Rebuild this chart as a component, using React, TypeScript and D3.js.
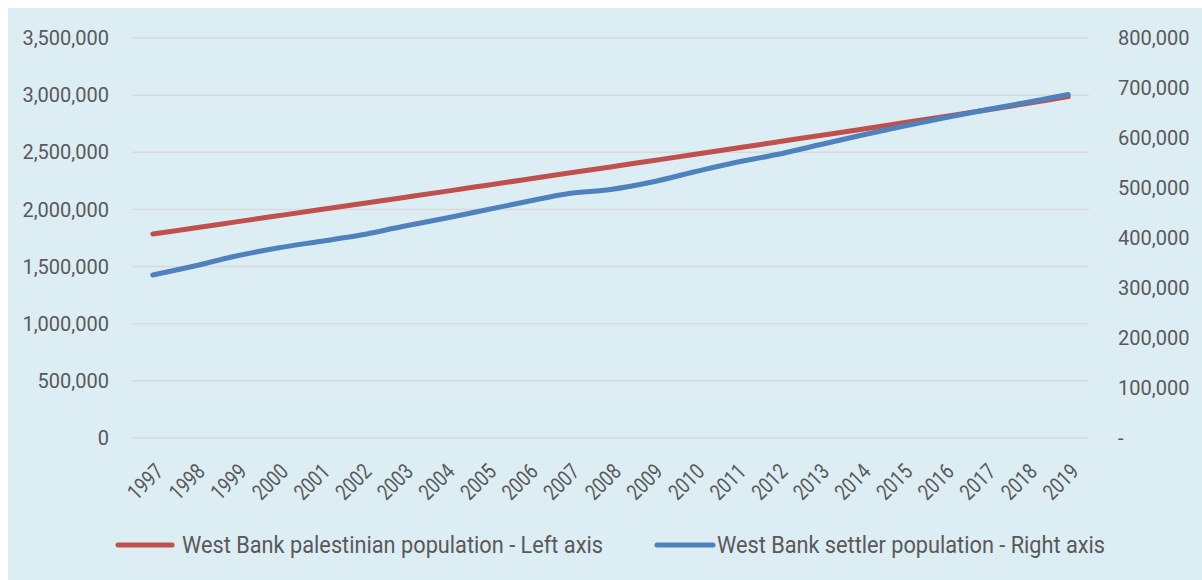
import React from "react";
import * as d3 from "d3";

// Years on the category axis
const years: string[] = [
  "1997", "1998", "1999", "2000", "2001", "2002", "2003", "2004", "2005", "2006", "2007", "2008",
  "2009", "2010", "2011", "2012", "2013", "2014", "2015", "2016", "2017", "2018", "2019",
];

// West Bank palestinian population (left axis)
const palestinian: number[] = [
  1785000, 1838000, 1891000, 1944000, 1997000, 2050000, 2103000, 2156000, 2210000, 2264000, 2318000,
  2372000, 2426000, 2480000, 2535000, 2590000, 2645000, 2700000, 2756000, 2812000, 2868000, 2927000,
  2987000,
];

// West Bank settler population (right axis)
const settlers: number[] = [
  326000, 344000, 364000, 380000, 393000, 406000, 423000, 439000, 456000, 473000, 489000, 497000,
  512000, 532000, 551000, 567000, 586000, 605000, 623000, 640000, 656000, 671000, 687000,
];

const leftTicks: number[] = [0, 500000, 1000000, 1500000, 2000000, 2500000, 3000000, 3500000];
const rightTicks: number[] = [0, 100000, 200000, 300000, 400000, 500000, 600000, 700000, 800000];

const legendLabels: string[] = [
  "West Bank palestinian population - Left axis",
  "West Bank settler population - Right axis",
];

const RED = "#C0504D";
const BLUE = "#4F81BD";
const TEXT = "#595959";
const GRID = "#D9D9D9";
const BG = "#DCEDF3";
const FONT = "Roboto, 'Liberation Sans', Arial, sans-serif";

export default function App() {
  const W = 1202;
  const H = 580;
  const plot = { left: 132, right: 1089, top: 38, bottom: 438 };

  const x = d3.scaleBand<string>().domain(years).range([plot.left, plot.right]).padding(0);
  const cx = (y: string) => (x(y) ?? 0) + x.bandwidth() / 2;
  const yL = d3.scaleLinear().domain([0, 3500000]).range([plot.bottom, plot.top]);
  const yR = d3.scaleLinear().domain([0, 800000]).range([plot.bottom, plot.top]);

  const fmt = d3.format(",");

  const lineL = d3
    .line<number>()
    .x((_, i) => cx(years[i]))
    .y((v) => yL(v))
    .curve(d3.curveCatmullRom.alpha(0.5));
  const lineR = d3
    .line<number>()
    .x((_, i) => cx(years[i]))
    .y((v) => yR(v))
    .curve(d3.curveCatmullRom.alpha(0.5));

  const legendY = 545;
  const legend = [
    { label: legendLabels[0], color: RED, x0: 118, x1: 172, tx: 182, len: 421 },
    { label: legendLabels[1], color: BLUE, x0: 657, x1: 713, tx: 717, len: 388 },
  ];

  return (
    <svg
      width={W}
      height={H}
      style={{ position: "absolute", left: 0, top: 0, display: "block" }}
      fontFamily={FONT}
    >
      <rect x={0} y={0} width={W} height={H} fill="#ffffff" />
      <rect x={8} y={8} width={W - 8} height={H - 8} fill={BG} />

      {/* horizontal gridlines */}
      {leftTicks.map((t) => (
        <line
          key={"g" + t}
          x1={plot.left}
          x2={plot.right}
          y1={yL(t)}
          y2={yL(t)}
          stroke={GRID}
          strokeWidth={1.5}
        />
      ))}

      {/* left axis labels */}
      {leftTicks.map((t) => (
        <text
          key={"l" + t}
          x={109}
          y={yL(t)}
          dy="0.36em"
          textAnchor="end"
          fontSize={20}
          fill={TEXT}
        >
          {fmt(t)}
        </text>
      ))}

      {/* right axis labels */}
      {rightTicks.map((t) => (
        <text
          key={"r" + t}
          x={1118}
          y={yR(t)}
          dy="0.36em"
          textAnchor="start"
          fontSize={20}
          fill={TEXT}
        >
          {t === 0 ? "-" : fmt(t)}
        </text>
      ))}

      {/* category labels, rotated */}
      {years.map((yr) => (
        <text
          key={"x" + yr}
          transform={`translate(${cx(yr) + 12},${473}) rotate(-45)`}
          textAnchor="end"
          fontSize={22}
          fill={TEXT}
          textLength={40}
          lengthAdjust="spacingAndGlyphs"
        >
          {yr}
        </text>
      ))}

      {/* series */}
      <path
        d={lineL(palestinian) ?? ""}
        fill="none"
        stroke={RED}
        strokeWidth={5}
        strokeLinecap="round"
        strokeLinejoin="round"
      />
      <path
        d={lineR(settlers) ?? ""}
        fill="none"
        stroke={BLUE}
        strokeWidth={5}
        strokeLinecap="round"
        strokeLinejoin="round"
      />

      {/* legend */}
      {legend.map((l) => (
        <g key={l.label}>
          <line
            x1={l.x0}
            x2={l.x1}
            y1={legendY}
            y2={legendY}
            stroke={l.color}
            strokeWidth={5}
            strokeLinecap="round"
          />
          <text
            x={l.tx}
            y={legendY}
            dy="0.36em"
            fontSize={23}
            fill={TEXT}
            textLength={l.len}
            lengthAdjust="spacingAndGlyphs"
          >
            {l.label}
          </text>
        </g>
      ))}
    </svg>
  );
}
